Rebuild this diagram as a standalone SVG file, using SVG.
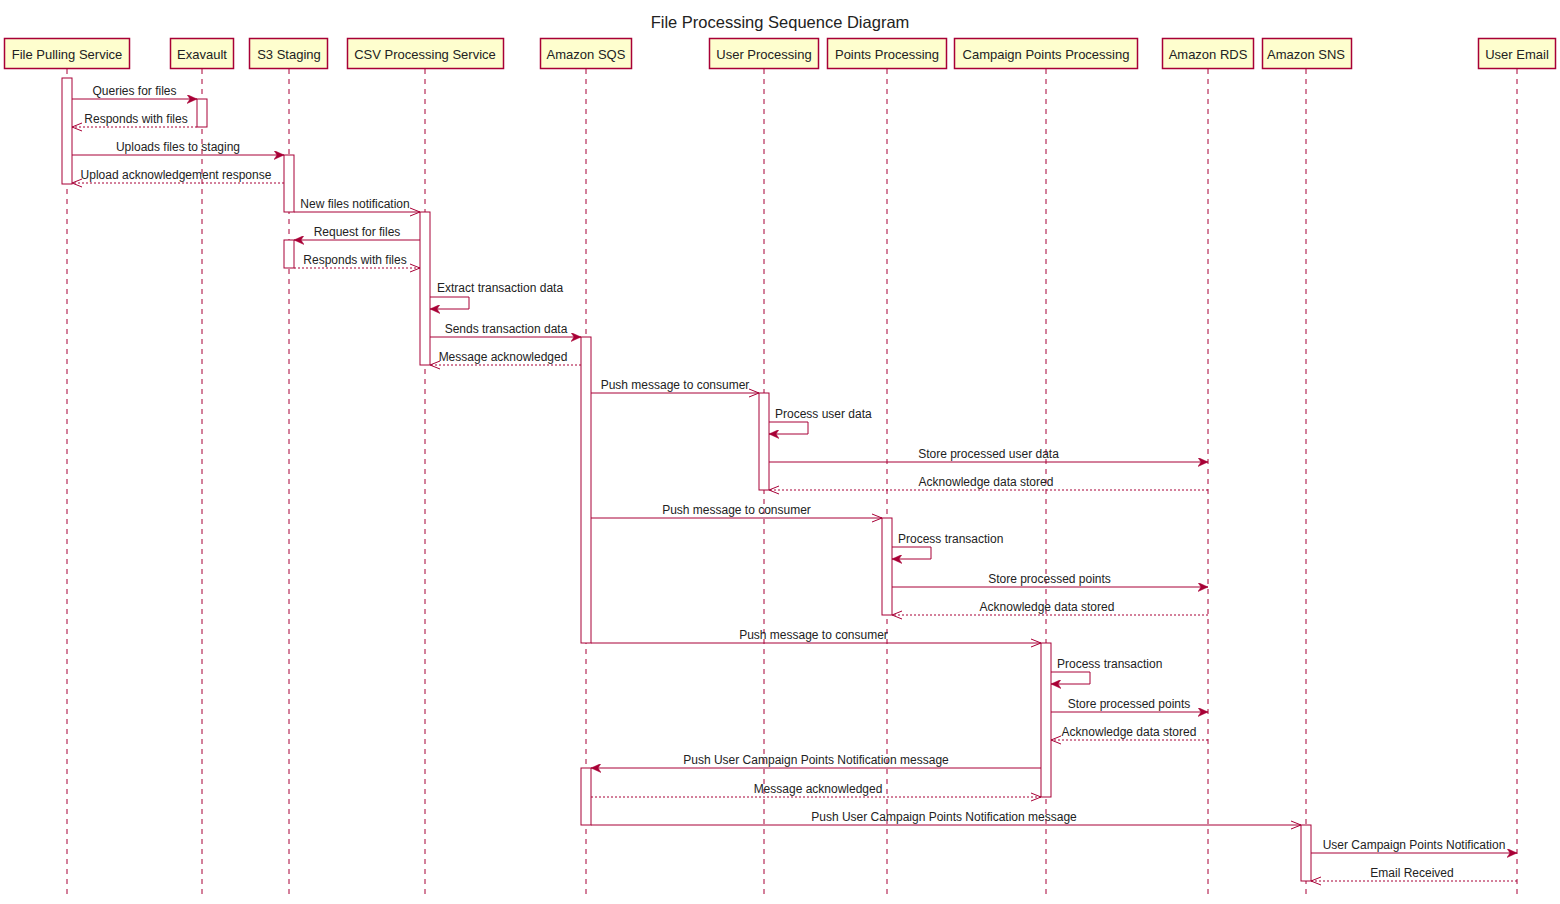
<svg xmlns="http://www.w3.org/2000/svg" width="1560" height="904" viewBox="0 0 1560 904">
<style>
  text { font-family: "Liberation Sans", Arial, sans-serif; fill: #222; }
  .title { font-size: 16.5px; text-anchor: middle; fill: #222; }
  .pbox { fill: #FEFECE; stroke: #A80036; stroke-width: 1.5; }
  .pname { font-size: 13px; text-anchor: middle; }
  .life { stroke: #A80036; stroke-width: 1; stroke-dasharray: 5 5; fill: none; }
  .act { fill: #FFFFFF; stroke: #A80036; stroke-width: 1; }
  .msg { stroke: #A80036; stroke-width: 1; fill: none; }
  .ret { stroke: #A80036; stroke-width: 1; fill: none; stroke-dasharray: 2 2; }
  .lbl { font-size: 12px; text-anchor: middle; }
  .slbl { font-size: 12px; text-anchor: start; }
</style>
<defs>
  <marker id="filled" viewBox="0 0 10 9" refX="10" refY="4.5" markerWidth="10" markerHeight="9" markerUnits="userSpaceOnUse" orient="auto">
    <path d="M0,0 L10,4.5 L0,9 L3,4.5 Z" fill="#A80036" stroke="#A80036" stroke-width="0.5"/>
  </marker>
  <marker id="open" viewBox="-1 -1 12 10" refX="10" refY="4" markerWidth="12" markerHeight="10" markerUnits="userSpaceOnUse" orient="auto">
    <path d="M0,0 L10,4 L0,8" fill="none" stroke="#A80036" stroke-width="1"/>
  </marker>
</defs>
<rect width="1560" height="904" fill="#FFFFFF"/>
<text class="title" x="780" y="28">File Processing Sequence Diagram</text>

<g id="lifelines">
  <line class="life" x1="67" y1="69" x2="67" y2="898"/>
  <line class="life" x1="202" y1="69" x2="202" y2="898"/>
  <line class="life" x1="289" y1="69" x2="289" y2="898"/>
  <line class="life" x1="425" y1="69" x2="425" y2="898"/>
  <line class="life" x1="586" y1="69" x2="586" y2="898"/>
  <line class="life" x1="764" y1="69" x2="764" y2="898"/>
  <line class="life" x1="887" y1="69" x2="887" y2="898"/>
  <line class="life" x1="1046" y1="69" x2="1046" y2="898"/>
  <line class="life" x1="1208" y1="69" x2="1208" y2="898"/>
  <line class="life" x1="1306" y1="69" x2="1306" y2="898"/>
  <line class="life" x1="1517" y1="69" x2="1517" y2="898"/>
</g>

<g id="p-file-pulling"><rect class="pbox" x="4.5" y="38.5" width="125" height="30"/><text class="pname" x="67" y="58.5">File Pulling Service</text></g>
<g id="p-exavault"><rect class="pbox" x="170.5" y="38.5" width="63" height="30"/><text class="pname" x="202" y="58.5">Exavault</text></g>
<g id="p-s3"><rect class="pbox" x="249.5" y="38.5" width="78" height="30"/><text class="pname" x="289" y="58.5">S3 Staging</text></g>
<g id="p-csv"><rect class="pbox" x="347.5" y="38.5" width="156" height="30"/><text class="pname" x="425" y="58.5">CSV Processing Service</text></g>
<g id="p-sqs"><rect class="pbox" x="540.5" y="38.5" width="91" height="30"/><text class="pname" x="586" y="58.5">Amazon SQS</text></g>
<g id="p-user"><rect class="pbox" x="709.5" y="38.5" width="109" height="30"/><text class="pname" x="764" y="58.5">User Processing</text></g>
<g id="p-points"><rect class="pbox" x="827.5" y="38.5" width="119" height="30"/><text class="pname" x="887" y="58.5">Points Processing</text></g>
<g id="p-campaign"><rect class="pbox" x="954.5" y="38.5" width="183" height="30"/><text class="pname" x="1046" y="58.5">Campaign Points Processing</text></g>
<g id="p-rds"><rect class="pbox" x="1162.5" y="38.5" width="91" height="30"/><text class="pname" x="1208" y="58.5">Amazon RDS</text></g>
<g id="p-sns"><rect class="pbox" x="1262.5" y="38.5" width="89" height="30"/><text class="pname" x="1306" y="58.5">Amazon SNS</text></g>
<g id="p-email"><rect class="pbox" x="1478.5" y="38.5" width="77" height="30"/><text class="pname" x="1517" y="58.5">User Email</text></g>

<g id="activations">
  <rect class="act" x="62" y="78" width="10" height="106"/>
  <rect class="act" x="197" y="99" width="10" height="28"/>
  <rect class="act" x="284" y="155" width="10" height="57"/>
  <rect class="act" x="284" y="240" width="10" height="28"/>
  <rect class="act" x="420" y="212" width="10" height="153"/>
  <rect class="act" x="581" y="337" width="10" height="306"/>
  <rect class="act" x="581" y="768" width="10" height="57"/>
  <rect class="act" x="759" y="393" width="10" height="97"/>
  <rect class="act" x="882" y="518" width="10" height="97"/>
  <rect class="act" x="1041" y="643" width="10" height="154"/>
  <rect class="act" x="1301" y="825" width="10" height="56"/>
</g>

<g id="connectors">
  <line class="msg" x1="72" y1="99" x2="197" y2="99" marker-end="url(#filled)"/>
  <line class="ret" x1="197" y1="127" x2="72" y2="127" marker-end="url(#open)"/>
  <line class="msg" x1="72" y1="155" x2="284" y2="155" marker-end="url(#filled)"/>
  <line class="ret" x1="284" y1="183" x2="72" y2="183" marker-end="url(#open)"/>
  <line class="msg" x1="294" y1="212" x2="420" y2="212" marker-end="url(#open)"/>
  <line class="msg" x1="420" y1="240" x2="294" y2="240" marker-end="url(#filled)"/>
  <line class="ret" x1="294" y1="268" x2="420" y2="268" marker-end="url(#open)"/>
  <polyline class="msg" points="430,297 469,297 469,309 430,309" marker-end="url(#filled)"/>
  <line class="msg" x1="430" y1="337" x2="581" y2="337" marker-end="url(#filled)"/>
  <line class="ret" x1="581" y1="365" x2="430" y2="365" marker-end="url(#open)"/>
  <line class="msg" x1="591" y1="393" x2="759" y2="393" marker-end="url(#open)"/>
  <polyline class="msg" points="769,422 808,422 808,434 769,434" marker-end="url(#filled)"/>
  <line class="msg" x1="769" y1="462" x2="1208" y2="462" marker-end="url(#filled)"/>
  <line class="ret" x1="1208" y1="490" x2="769" y2="490" marker-end="url(#open)"/>
  <line class="msg" x1="591" y1="518" x2="882" y2="518" marker-end="url(#open)"/>
  <polyline class="msg" points="892,547 931,547 931,559 892,559" marker-end="url(#filled)"/>
  <line class="msg" x1="892" y1="587" x2="1208" y2="587" marker-end="url(#filled)"/>
  <line class="ret" x1="1208" y1="615" x2="892" y2="615" marker-end="url(#open)"/>
  <line class="msg" x1="591" y1="643" x2="1041" y2="643" marker-end="url(#open)"/>
  <polyline class="msg" points="1051,672 1090,672 1090,684 1051,684" marker-end="url(#filled)"/>
  <line class="msg" x1="1051" y1="712" x2="1208" y2="712" marker-end="url(#filled)"/>
  <line class="ret" x1="1208" y1="740" x2="1051" y2="740" marker-end="url(#open)"/>
  <line class="msg" x1="1041" y1="768" x2="591" y2="768" marker-end="url(#filled)"/>
  <line class="ret" x1="591" y1="797" x2="1041" y2="797" marker-end="url(#open)"/>
  <line class="msg" x1="591" y1="825" x2="1301" y2="825" marker-end="url(#open)"/>
  <line class="msg" x1="1311" y1="853" x2="1517" y2="853" marker-end="url(#filled)"/>
  <line class="ret" x1="1517" y1="881" x2="1311" y2="881" marker-end="url(#open)"/>
</g>

<g id="labels">
  <text class="lbl" x="134.5" y="95">Queries for files</text>
  <text class="lbl" x="136" y="123">Responds with files</text>
  <text class="lbl" x="178" y="151">Uploads files to staging</text>
  <text class="lbl" x="176" y="179">Upload acknowledgement response</text>
  <text class="lbl" x="355" y="207.5">New files notification</text>
  <text class="lbl" x="357" y="235.5">Request for files</text>
  <text class="lbl" x="355" y="263.5">Responds with files</text>
  <text class="slbl" x="437" y="292">Extract transaction data</text>
  <text class="lbl" x="506" y="332.5">Sends transaction data</text>
  <text class="lbl" x="503" y="360.5">Message acknowledged</text>
  <text class="lbl" x="675" y="388.5">Push message to consumer</text>
  <text class="slbl" x="775" y="417.5">Process user data</text>
  <text class="lbl" x="988.5" y="457.5">Store processed user data</text>
  <text class="lbl" x="986" y="485.5">Acknowledge data stored</text>
  <text class="lbl" x="736.5" y="513.5">Push message to consumer</text>
  <text class="slbl" x="898" y="542.5">Process transaction</text>
  <text class="lbl" x="1049.5" y="582.5">Store processed points</text>
  <text class="lbl" x="1047" y="610.5">Acknowledge data stored</text>
  <text class="lbl" x="813.5" y="638.5">Push message to consumer</text>
  <text class="slbl" x="1057" y="667.5">Process transaction</text>
  <text class="lbl" x="1129" y="707.5">Store processed points</text>
  <text class="lbl" x="1129" y="735.5">Acknowledge data stored</text>
  <text class="lbl" x="816" y="763.5">Push User Campaign Points Notification message</text>
  <text class="lbl" x="818" y="792.5">Message acknowledged</text>
  <text class="lbl" x="944" y="820.5">Push User Campaign Points Notification message</text>
  <text class="lbl" x="1414" y="848.5">User Campaign Points Notification</text>
  <text class="lbl" x="1412" y="876.5">Email Received</text>
</g>
</svg>
